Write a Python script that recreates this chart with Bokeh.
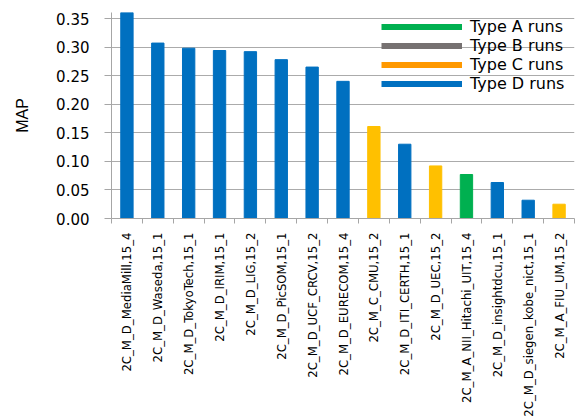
import math
from bokeh.plotting import figure
from bokeh.models import ColumnDataSource, FixedTicker, Legend, LegendItem, Range1d
from bokeh.embed import file_html
from bokeh.resources import INLINE

runs = ["2C_M_D_MediaMill,15_4", "2C_M_D_Waseda,15_1", "2C_M_D_TokyoTech,15_1",
        "2C_M_D_IRIM,15_1", "2C_M_D_LIG,15_2", "2C_M_D_PicSOM,15_1",
        "2C_M_D_UCF_CRCV,15_2", "2C_M_D_EURECOM,15_4", "2C_M_C_CMU,15_2",
        "2C_M_D_ITI_CERTH,15_1", "2C_M_D_UEC,15_2", "2C_M_A_NII_Hitachi_UIT,15_4",
        "2C_M_D_insightdcu,15_1", "2C_M_D_siegen_kobe_nict,15_1", "2C_M_A_FIU_UM,15_2"]
map_values = [0.361, 0.307, 0.298, 0.294, 0.292, 0.278, 0.265, 0.240, 0.161,
              0.130, 0.092, 0.077, 0.063, 0.032, 0.025]
bar_kind = ["D", "D", "D", "D", "D", "D", "D", "D", "C", "D", "C", "A", "D", "D", "C"]
legend_labels = ["Type A runs", "Type B runs", "Type C runs", "Type D runs"]
legend_colors = ["#00B050", "#767171", "#FF9900", "#0070C0"]
bar_palette = {"A": "#00B050", "B": "#767171", "C": "#FFC000", "D": "#0070C0"}
y_ticks = [0.0, 0.05, 0.10, 0.15, 0.20, 0.25, 0.30, 0.35]

xs = list(range(1, len(runs) + 1))
src = ColumnDataSource(dict(x=xs, top=map_values, color=[bar_palette[k] for k in bar_kind]))

p = figure(width=576, height=419, output_backend="svg", toolbar_location=None,
           x_range=Range1d(0.5, len(runs) + 0.5), y_range=Range1d(0, 0.3605),
           min_border_left=111, min_border_top=12, min_border_right=2, min_border_bottom=201)
p.outline_line_color = None
p.background_fill_color = "white"

p.vbar(x="x", top="top", width=0.4, color="color", source=src)

# y axis
p.yaxis.ticker = FixedTicker(ticks=y_ticks)
p.yaxis.major_label_overrides = {t: f"{t:.2f}" for t in y_ticks}
p.yaxis.major_label_text_font = "DejaVu Sans"
p.yaxis.major_label_text_font_size = "15px"
p.yaxis.major_label_text_color = "black"
p.yaxis.major_tick_out = 7
p.yaxis.major_tick_in = 0
p.yaxis.minor_tick_line_color = None
p.yaxis.major_tick_line_color = "#A6A6A6"
p.yaxis.axis_line_color = "#A6A6A6"
p.yaxis.major_label_standoff = 15
p.yaxis.axis_label = "MAP"
p.yaxis.axis_label_text_font = "Liberation Sans"
p.yaxis.axis_label_text_font_style = "normal"
p.yaxis.axis_label_text_font_size = "16px"
p.yaxis.axis_label_text_color = "black"
p.yaxis.axis_label_standoff = 22

p.ygrid.ticker = FixedTicker(ticks=y_ticks)
p.ygrid.grid_line_color = "#ABABAB"
p.xgrid.grid_line_color = None

# x axis
p.xaxis.ticker = FixedTicker(ticks=xs, minor_ticks=[i + 0.5 for i in range(0, len(runs) + 1)])
p.xaxis.major_label_overrides = {x: r for x, r in zip(xs, runs)}
p.xaxis.major_label_orientation = math.pi / 2
p.xaxis.major_label_text_font = "DejaVu Sans Condensed"
p.xaxis.major_label_text_font_size = "13px"
p.xaxis.major_label_text_color = "black"
p.xaxis.major_tick_line_color = None
p.xaxis.major_tick_out = 0
p.xaxis.major_tick_in = 0
p.xaxis.minor_tick_out = 5
p.xaxis.minor_tick_in = 0
p.xaxis.minor_tick_line_color = "#A6A6A6"
p.xaxis.axis_line_color = "#A6A6A6"
p.xaxis.major_label_standoff = 9

# legend
items = []
for lab, col in zip(legend_labels, legend_colors):
    r = p.line(x=[-10, -9], y=[-1, -1], line_color=col, line_width=6)
    items.append(LegendItem(label=lab, renderers=[r]))
legend = Legend(items=items, location=(270, 125), padding=0, margin=0, spacing=0,
                glyph_width=81, glyph_height=15, label_height=15, label_standoff=8,
                label_text_font="DejaVu Sans", label_text_font_size="16px",
                label_text_color="black", background_fill_alpha=0, border_line_color=None)
p.add_layout(legend, "center")

open("out.html", "w").write(file_html(p, INLINE))
